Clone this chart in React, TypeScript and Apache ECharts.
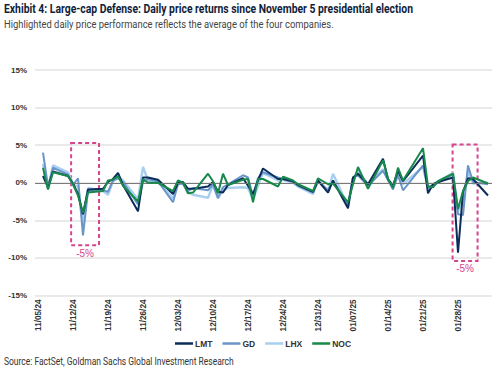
import React, { useEffect, useRef } from "react";
import * as echarts from "echarts";

const dates = [
  "2024-11-06","2024-11-07","2024-11-08","2024-11-11","2024-11-12","2024-11-13","2024-11-14","2024-11-15",
  "2024-11-18","2024-11-19","2024-11-20","2024-11-21","2024-11-22","2024-11-25","2024-11-26","2024-11-27","2024-11-29",
  "2024-12-02","2024-12-03","2024-12-04","2024-12-05","2024-12-06","2024-12-09","2024-12-10","2024-12-11","2024-12-12",
  "2024-12-13","2024-12-16","2024-12-17","2024-12-18","2024-12-19","2024-12-20","2024-12-23","2024-12-24","2024-12-26",
  "2024-12-27","2024-12-30","2024-12-31","2025-01-02","2025-01-03","2025-01-06","2025-01-07","2025-01-08","2025-01-10",
  "2025-01-13","2025-01-14","2025-01-15","2025-01-16","2025-01-17","2025-01-21","2025-01-22","2025-01-23","2025-01-24",
  "2025-01-27","2025-01-28","2025-01-29","2025-01-30","2025-01-31","2025-02-03",
];

const lmt = [
  0.9,-0.6,1.5,0.9,-0.1,-1.5,-4.2,-0.9,
  -0.8,0.1,0.5,1.3,-0.3,-3.8,0.7,0.7,0.4,
  -1.5,0.0,0.1,-0.8,-0.8,-0.5,0.1,-1.2,-1.3,
  -0.3,0.6,-0.4,-1.5,0.3,1.9,0.5,0.5,0.2,
  -0.3,-1.2,0.3,-1.3,0.3,-3.4,0.7,1.2,-0.2,
  3.2,0.5,-0.4,1.6,0.2,3.6,-1.4,-0.2,0.1,
  0.7,-9.3,-1.2,0.6,0.5,-1.7,
];
const gd = [
  4.0,-0.5,2.0,1.1,-0.3,0.6,-7.0,-1.1,
  -1.0,-1.2,0.3,0.6,0.1,-2.9,0.1,0.5,0.2,
  -2.6,-0.2,-0.1,-1.1,-0.7,-1.0,-0.2,-2.0,-0.6,
  -0.2,1.0,0.7,-1.8,0.6,1.4,0.7,0.5,0.1,
  -0.4,-1.3,0.2,-1.0,0.2,-2.9,0.7,1.0,-0.4,
  1.6,0.4,-0.9,1.0,-1.0,2.3,-0.6,-0.3,0.0,
  1.1,-4.2,-4.3,2.3,0.1,-0.2,
];
const lhx = [
  2.5,-0.8,2.3,1.4,-0.2,-0.5,-5.5,-0.7,
  -1.1,-1.6,0.2,0.8,0.3,-2.2,2.1,0.3,0.1,
  -2.1,0.2,-0.2,-1.3,-1.6,-2.0,-0.3,-2.1,-0.9,
  -0.7,-0.6,-0.7,-2.2,-0.4,1.3,0.3,0.4,0.0,
  -0.5,-1.5,0.4,-1.1,1.2,-3.1,0.5,1.6,-0.2,
  1.8,0.3,-0.3,1.3,-0.2,2.1,-0.8,-0.4,0.2,
  1.3,-3.8,-2.5,1.5,-0.1,0.0,
];
const noc = [
  2.0,-0.9,1.4,0.9,-0.2,-1.7,-4.0,-1.3,
  -1.1,0.3,0.4,0.9,-0.4,-2.5,0.5,0.0,0.0,
  -1.1,0.3,0.0,-1.4,-1.3,1.2,0.2,-1.4,1.2,
  -0.3,0.4,0.5,-2.6,0.5,0.5,-0.5,0.8,0.3,
  -0.2,-1.1,0.6,-0.2,-0.1,-2.6,-0.2,2.1,-0.8,
  3.0,0.5,-0.7,2.0,0.3,4.6,-0.5,-0.6,0.2,
  1.2,-3.5,-1.1,0.2,0.7,-0.1,
];

const seriesNames = ["LMT", "GD", "LHX", "NOC"];
const seriesColors = ["#0c2c5a", "#6a95c9", "#a9cff0", "#17894a"];
const tickLabels = [
  "11/05/24","11/12/24","11/19/24","11/26/24","12/03/24","12/10/24","12/17/24",
  "12/24/24","12/31/24","01/07/25","01/14/25","01/21/25","01/28/25",
];
// highlight boxes
const highlightStart = ["2024-11-11T15:00", "2025-01-26T22:00"];
const highlightEnd = ["2024-11-17T05:00", "2025-01-31T22:00"];
const highlightTop = [5.3, 5.1];
const highlightBottom = [-8.3, -10.4];
const highlightLabel = ["-5%", "-5%"];

const titleText = "Exhibit 4: Large-cap Defense: Daily price returns since November 5 presidential election";
const subtitleText = "Highlighted daily price performance reflects the average of the four companies.";
const sourceText = "Source: FactSet, Goldman Sachs Global Investment Research";

const origin = Date.UTC(2024, 10, 5);
const dayOf = (s: string) => (Date.parse(s + (s.length === 10 ? "T00:00Z" : "Z")) - origin) / 86400000;

const FONT = "Liberation Sans";
const HEAD = "Roboto";

function fitScale(text: string, font: string, target: number) {
  const c = document.createElement("canvas").getContext("2d");
  if (!c) return 1;
  c.font = font;
  const w = c.measureText(text).width;
  return w > 0 ? target / w : 1;
}

export default function App() {
  const ref = useRef<HTMLDivElement>(null);
  useEffect(() => {
    if (!ref.current) return;
    const chart = echarts.init(ref.current, undefined, { renderer: "svg" });
    const xs = dates.map(dayOf);
    const all = [lmt, gd, lhx, noc];
    const zs = [4, 3, 2, 5];
    const widths = [2, 2, 2.4, 2];
    const series: any[] = all.map((vals, i) => ({
      name: seriesNames[i],
      type: "line",
      data: vals.map((v, k) => [xs[k], v]),
      symbol: "none",
      z: zs[i],
      lineStyle: { color: seriesColors[i], width: widths[i] },
      itemStyle: { color: seriesColors[i] },
    }));
    series[2].markLine = {
      silent: true,
      symbol: ["none", "none"],
      lineStyle: { color: "#7a7a7a", width: 1, type: "solid" },
      label: { show: false },
      data: [{ yAxis: 0 }],
    };
    series[3].markArea = {
      silent: true,
      itemStyle: {
        color: "rgba(0,0,0,0)",
        borderColor: "#d6448c",
        borderWidth: 2,
        borderType: [4, 3],
      },
      label: {
        show: true,
        position: "bottom",
        distance: 2,
        color: "#d6448c",
        fontSize: 10,
        fontFamily: FONT,
      },
      data: highlightStart.map((s, i) => [
        { xAxis: dayOf(s), yAxis: highlightTop[i], name: highlightLabel[i] },
        { xAxis: dayOf(highlightEnd[i]), yAxis: highlightBottom[i] },
      ]),
    };
    const tickDays = tickLabels.map((_, i) => i * 7);
    const titleFont = `bold 12.5px ${HEAD}`;
    const subFont = `11px ${HEAD}`;
    const srcFont = `10.5px ${HEAD}`;
    chart.setOption({
      animation: false,
      grid: { left: 35, right: 8, top: 70, bottom: 78.5 },
      legend: {
        left: 170,
        top: 334,
        icon: "rect",
        itemWidth: 18,
        itemHeight: 2.5,
        itemGap: 10,
        data: seriesNames,
        textStyle: { fontFamily: FONT, fontSize: 8.5, fontWeight: "bold", color: "#333", padding: [0, 0, 0, -3] },
      },
      xAxis: {
        type: "value",
        min: -0.6,
        max: 90.8,
        axisLine: { show: false },
        axisTick: { show: false },
        splitLine: { show: false },
        axisLabel: {
          customValues: tickDays,
          rotate: 90,
          margin: 4,
          fontFamily: FONT,
          fontSize: 8.2,
          fontWeight: "bold",
          color: "#333",
          formatter: (v: number) => tickLabels[Math.round(v / 7)] ?? "",
        },
      },
      yAxis: {
        type: "value",
        min: -15,
        max: 15,
        interval: 5,
        axisLine: { show: false },
        axisTick: { show: false },
        splitLine: { lineStyle: { color: "#e3e3e3", width: 1.5 } },
        axisLabel: {
          formatter: "{value}%",
          margin: 8,
          fontFamily: FONT,
          fontSize: 8,
          fontWeight: "bold",
          color: "#333",
        },
      },
      graphic: [
        {
          type: "text",
          x: 4,
          y: 9,
          scaleX: fitScale(titleText, titleFont, 409),
          style: {
            text: titleText,
            font: titleFont,
            fill: "#0f1e3a",
            verticalAlign: "middle",
          },
        },
        {
          type: "text",
          x: 4,
          y: 24,
          scaleX: fitScale(subtitleText, subFont, 330),
          style: {
            text: subtitleText,
            font: subFont,
            fill: "#444",
            verticalAlign: "middle",
          },
        },
        {
          type: "text",
          x: 4,
          y: 361,
          scaleX: fitScale(sourceText, srcFont, 230),
          style: {
            text: sourceText,
            font: srcFont,
            fill: "#333",
            verticalAlign: "middle",
          },
        },
      ],
      series,
    });
    return () => chart.dispose();
  }, []);
  return <div ref={ref} style={{ width: 500, height: 374, position: "absolute", left: 0, top: 0 }} />;
}
